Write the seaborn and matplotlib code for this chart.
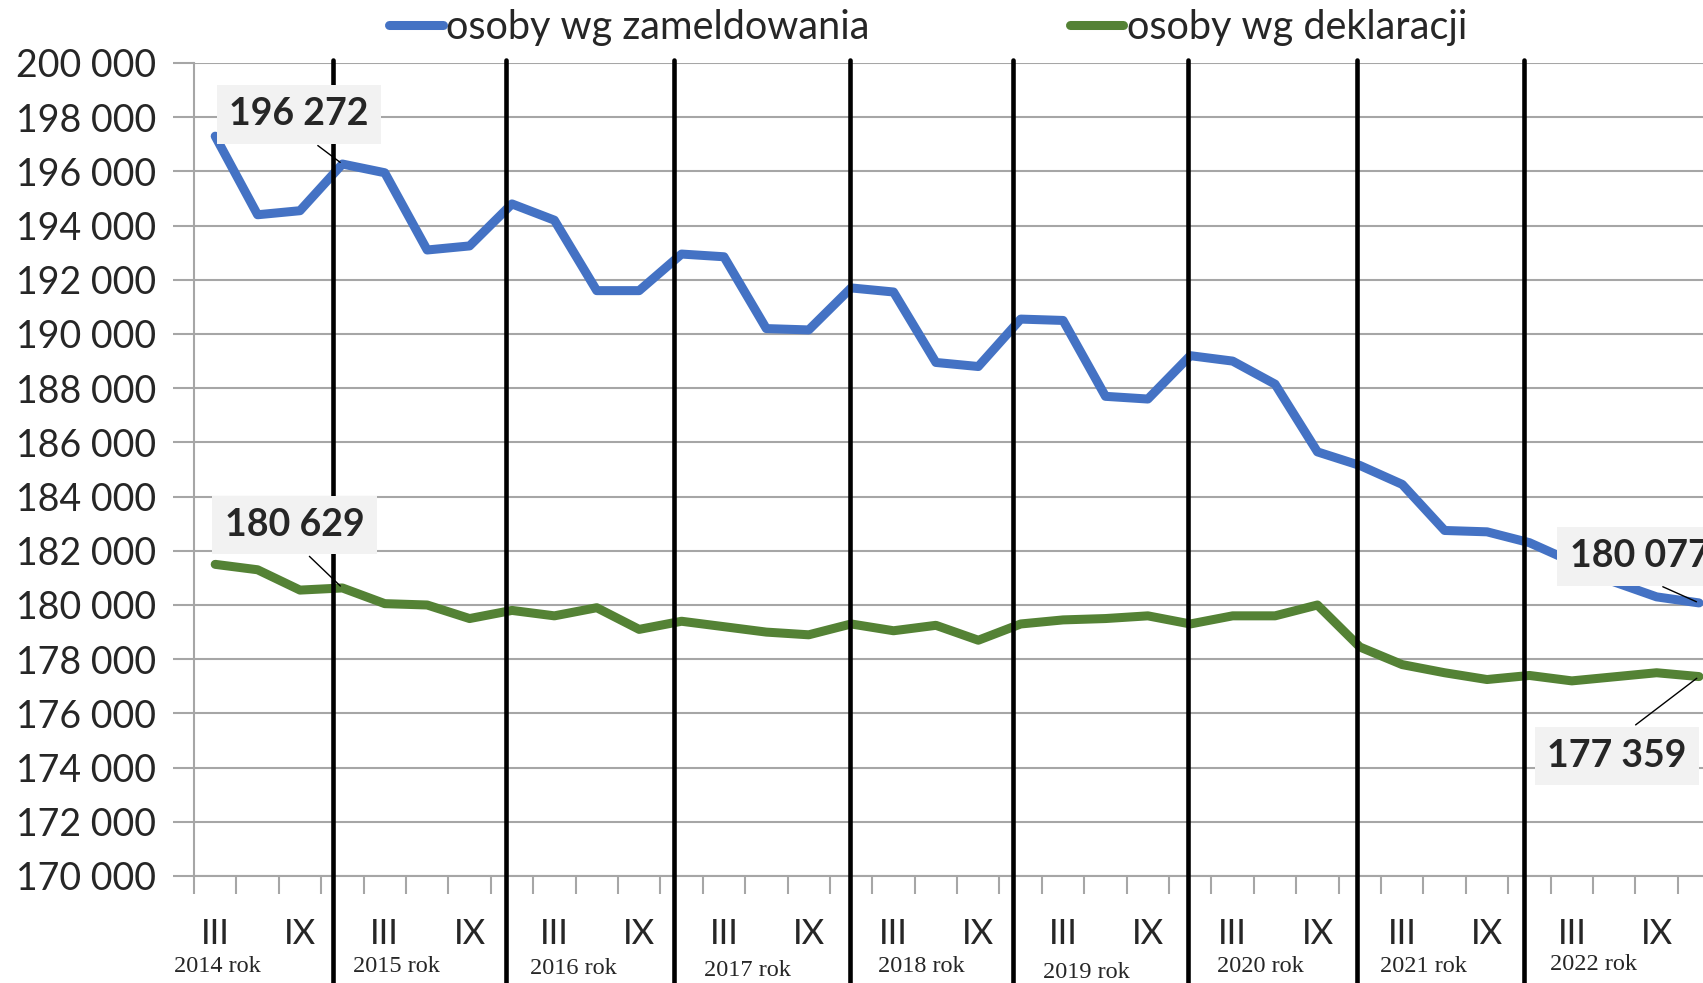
import matplotlib
matplotlib.use("Agg")
import matplotlib.pyplot as plt
import matplotlib.transforms as mtransforms
import pandas as pd
import seaborn as sns

sns.set_theme(style="white")
plt.rcParams["font.family"] = ["Lato", "DejaVu Sans"]

# ── data ─────────────────────────────────────────────────────────────
years = ["2014 rok", "2015 rok", "2016 rok", "2017 rok", "2018 rok",
         "2019 rok", "2020 rok", "2021 rok", "2022 rok"]
quarters = ["III", "", "IX", ""]

zameldowanie = [197300, 194400, 194550, 196272, 195950, 193100, 193250, 194800,
                194200, 191600, 191600, 192950, 192850, 190200, 190150, 191700,
                191550, 188950, 188800, 190550, 190500, 187700, 187600, 189200,
                189000, 188150, 185650, 185150, 184450, 182750, 182700, 182300,
                181600, 180850, 180300, 180077]
deklaracje = [181500, 181300, 180550, 180629, 180050, 180000, 179500, 179800,
              179600, 179900, 179100, 179400, 179200, 179000, 178900, 179300,
              179050, 179250, 178700, 179300, 179450, 179500, 179600, 179300,
              179600, 179600, 180000, 178450, 177800, 177500, 177250, 177400,
              177200, 177350, 177500, 177359]

series_names = ["osoby wg zameldowania", "osoby wg deklaracji"]
colors = ["#4472C4", "#548235"]

# hand-drawn year separators and year captions (category units)
year_breaks = [2.78, 6.86, 10.83, 14.98, 18.82, 22.95, 26.93, 30.87]
year_label_x = [0.05, 4.27, 8.45, 12.55, 16.65, 20.54, 24.65, 28.49, 32.52]
year_label_y = [967, 967, 969, 970, 967, 973, 967, 967, 964]  # pixel rows

n = len(zameldowanie)
df = pd.DataFrame({
    "idx": list(range(n)) * 2,
    "value": zameldowanie + deklaracje,
    "series": [series_names[0]] * n + [series_names[1]] * n,
})

W, H = 1703, 983
fig = plt.figure(figsize=(W / 100, H / 100), dpi=100)
ax_left, ax_bottom, ax_top = 194, 876, 63
ax = fig.add_axes([ax_left / W, (H - ax_bottom) / H, 1 - ax_left / W,
                   (ax_bottom - ax_top) / H])

sns.lineplot(data=df, x="idx", y="value", hue="series", palette=colors,
             linewidth=6.5, ax=ax, legend=False, zorder=3,
             solid_joinstyle="round", solid_capstyle="round")
ax.set_xlabel("")
ax.set_ylabel("")

# y axis
yt = list(range(170000, 200001, 2000))
ax.set_yticks(yt)
ax.set_yticklabels([f"{v:,}".replace(",", " ") for v in yt], fontsize=27)
ax.yaxis.grid(True, color="#A6A6A6", linewidth=1.5, zorder=0)
ax.tick_params(axis="y", length=15, width=1.5, color="#A6A6A6", pad=12,
               left=True)

# x axis: labels at points, tick marks at category boundaries
ax.set_xticks(range(n))
ax.set_xticklabels([quarters[i % 4] for i in range(n)], fontsize=25)
ax.set_xticks([i - 0.5 for i in range(n + 1)], minor=True)
ax.tick_params(axis="x", which="major", length=0, pad=30)
ax.tick_params(axis="x", which="minor", length=13, width=1.5,
               color="#A6A6A6", bottom=True)

# chart is cropped on the right, just past the last point
ax.set_xlim(-0.5, (W - 215) / 42.4)
ax.set_ylim(170000, 200000)

for s in ["top", "right"]:
    ax.spines[s].set_visible(False)
for s in ["left", "bottom"]:
    ax.spines[s].set_color("#A6A6A6")
    ax.spines[s].set_linewidth(1.5)

# year separators
trans = mtransforms.blended_transform_factory(ax.transData, ax.transAxes)
for xb in year_breaks:
    ax.plot([xb, xb], [-0.2, 1.004], color="black", linewidth=3.3,
            transform=trans, clip_on=False, zorder=4)

# year captions
span = ax_bottom - ax_top
for lab, xl, yl in zip(years, year_label_x, year_label_y):
    ax.text(xl, (ax_bottom - yl) / span, lab, transform=trans, ha="center",
            va="center", fontsize=17.5, family=["Liberation Serif"],
            clip_on=False)

# callouts
box = dict(boxstyle="square,pad=0.33", facecolor="#F2F2F2", edgecolor="none")
arrow = dict(arrowstyle="-", color="black", linewidth=1)
last = n - 1
callouts = [
    (3, zameldowanie[3], 1.98, 198100, "center", (0.5, 0)),
    (3, deklaracje[3], 1.87, 182950, "center", (0.5, 0)),
    (last, zameldowanie[last], 31.95, 181800, "left", (0.45, 0)),
    (last, deklaracje[last], 33.07, 174430, "center", (0.5, 1)),
]
for xp, yp, xt, ytxt, ha, rel in callouts:
    ax.annotate(f"{yp:,}".replace(",", " "), xy=(xp, yp), xytext=(xt, ytxt),
                ha=ha, va="center", fontsize=27, fontweight="bold",
                bbox=box, arrowprops=dict(arrow, relpos=rel), zorder=5,
                annotation_clip=False)

# legend
handles = ax.get_lines()[:2]
fig.legend(handles, series_names, loc="center", ncol=2,
           bbox_to_anchor=(0.545, 1 - 27 / H), frameon=False, fontsize=28.5,
           handlelength=1.36, handletextpad=0.08, columnspacing=5.05)

fig.savefig("out.png", dpi=100)
